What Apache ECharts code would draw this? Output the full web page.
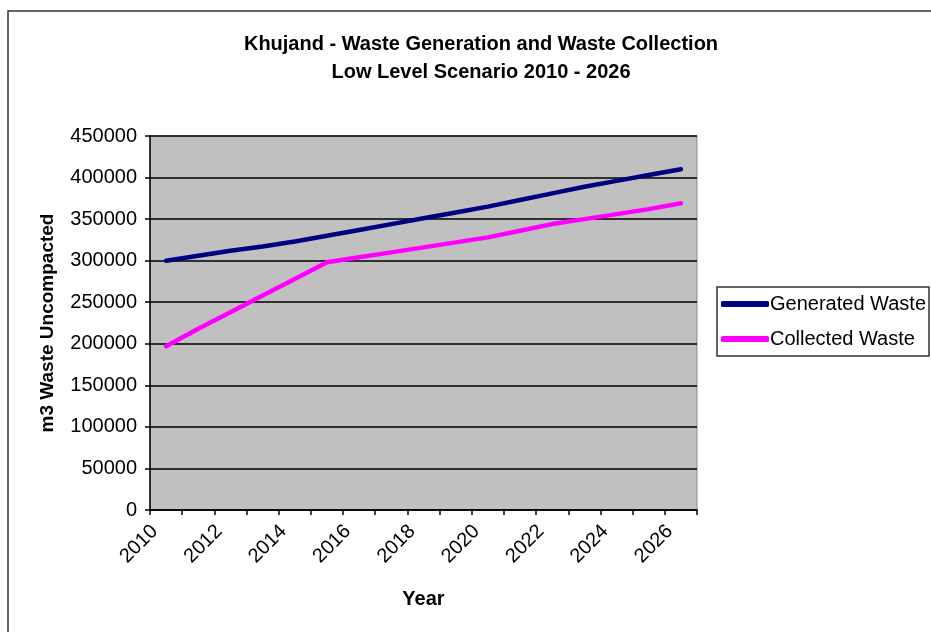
<!DOCTYPE html>
<html>
<head>
<meta charset="utf-8">
<script src="https://cdn.jsdelivr.net/npm/echarts@6/dist/echarts.min.js"></script>
<style>
  html, body { margin: 0; padding: 0; background: #fff; }
  #chart { width: 931px; height: 632px; }
</style>
</head>
<body>
<div id="chart"></div>
<script>
// Years on the category axis
const years = ['2010','2011','2012','2013','2014','2015','2016','2017','2018',
               '2019','2020','2021','2022','2023','2024','2025','2026'];

// Waste volumes, m3 uncompacted
const generatedWaste = [300000, 306000, 312000, 317000, 323000, 330000, 337000, 344000, 351000,
                        358000, 365000, 373000, 381000, 389000, 396000, 403000, 410000];
const collectedWaste = [197000, 218000, 238000, 258000, 278000, 298000, 304000, 310000, 316000,
                        322000, 328000, 336000, 344000, 350000, 356000, 362000, 369000];

const FONT = "'Liberation Sans', Arial, sans-serif";

const chart = echarts.init(document.getElementById('chart'), null, { renderer: 'canvas' });

chart.setOption({
  backgroundColor: '#ffffff',
  animation: false,
  textStyle: { fontFamily: FONT, color: '#000' },
  title: {
    text: 'Khujand - Waste Generation and Waste Collection\nLow Level Scenario 2010 - 2026',
    left: 476,
    textAlign: 'center',
    top: 25,
    textStyle: { fontFamily: FONT, fontSize: 20, fontWeight: 'bold', color: '#000', lineHeight: 28 }
  },
  graphic: [{
    type: 'rect',
    shape: { x: 8, y: 11, width: 1000, height: 700 },
    style: { fill: 'none', stroke: '#333', lineWidth: 1.5 },
    silent: true
  }],
  legend: {
    orient: 'vertical',
    left: 717,
    top: 287,
    padding: [6, 3, 6, 4],
    itemGap: 13,
    itemWidth: 48,
    itemHeight: 6,
    icon: 'roundRect',
    borderColor: '#333',
    borderWidth: 1.5,
    backgroundColor: '#fff',
    textStyle: { fontFamily: FONT, fontSize: 20, lineHeight: 22, color: '#000', padding: [0, 0, 0, -4] },
    data: ['Generated Waste', 'Collected Waste']
  },
  grid: {
    left: 150, right: 234, top: 136, bottom: 122,
    show: true,
    backgroundColor: '#c0c0c0',
    borderColor: '#8a8a8a',
    borderWidth: 1
  },
  xAxis: {
    type: 'category',
    data: years,
    boundaryGap: true,
    name: 'Year',
    nameLocation: 'middle',
    nameGap: 79,
    nameTextStyle: { fontFamily: FONT, fontSize: 20, fontWeight: 'bold', color: '#000' },
    axisLine: { lineStyle: { color: '#000', width: 1.5 } },
    axisTick: { show: true, alignWithLabel: false, interval: 0, length: 5, lineStyle: { color: '#000', width: 1.5 } },
    axisLabel: { interval: 1, rotate: 45, margin: 7, padding: [0, 16, 0, 0], fontFamily: FONT, fontSize: 20, color: '#000' },
    splitLine: { show: false }
  },
  yAxis: {
    type: 'value',
    min: 0,
    max: 450000,
    interval: 50000,
    name: 'm3 Waste Uncompacted',
    nameLocation: 'middle',
    nameGap: 93,
    nameTextStyle: { fontFamily: FONT, fontSize: 19, fontWeight: 'bold', color: '#000' },
    axisLine: { show: true, lineStyle: { color: '#000', width: 1.5 } },
    axisTick: { show: true, length: 5, lineStyle: { color: '#000', width: 1.5 } },
    axisLabel: { margin: 13, fontFamily: FONT, fontSize: 20, color: '#000', formatter: v => String(v) },
    splitLine: { show: true, lineStyle: { color: '#000', width: 1.5 } }
  },
  series: [
    {
      name: 'Generated Waste',
      type: 'line',
      data: generatedWaste,
      showSymbol: false,
      symbol: 'none',
      smooth: false,
      itemStyle: { color: '#000080' },
      lineStyle: { color: '#000080', width: 4.5, cap: 'round', join: 'round' }
    },
    {
      name: 'Collected Waste',
      type: 'line',
      data: collectedWaste,
      showSymbol: false,
      symbol: 'none',
      smooth: false,
      itemStyle: { color: '#ff00ff' },
      lineStyle: { color: '#ff00ff', width: 4.5, cap: 'round', join: 'round' }
    }
  ]
});
</script>
</body>
</html>
